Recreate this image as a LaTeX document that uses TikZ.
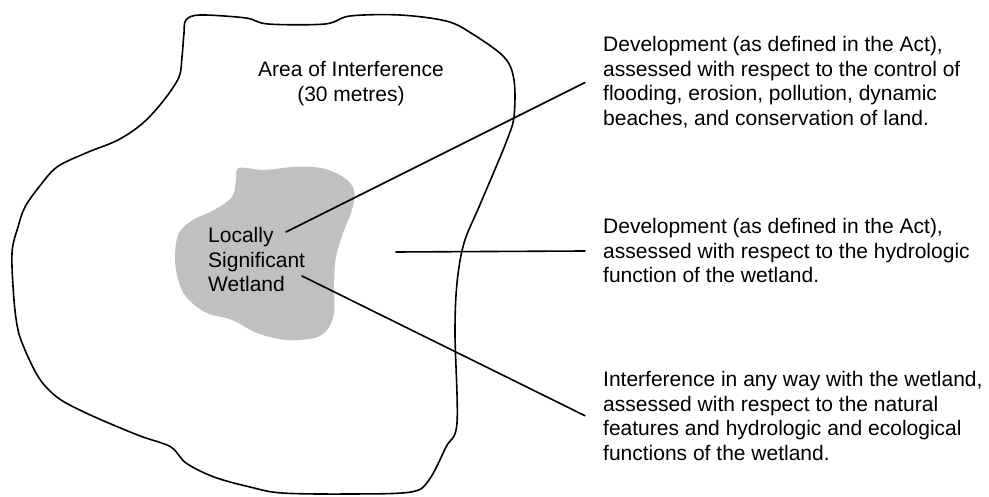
\documentclass[tikz,border=0pt]{standalone}
\usepackage{fontspec}
\setmainfont{Liberation Sans}
\definecolor{wetgray}{RGB}{192,192,192}
\begin{document}
\begin{tikzpicture}[x=1pt, y=-1pt, line join = round, line cap = round,
    txt/.style={font=\fontsize{21}{24.5}\selectfont, align=left, inner sep=0pt, anchor=base west},
    border/.style={line width=1.6pt}]
\useasboundingbox (0,0) rectangle (989,497);
% area of interference
\draw[border] plot[smooth cycle, tension=0.55] coordinates {
    (186,20) (200,15) (246,18) (268,24) (325,24) (350,16) (400,15) (446,21)
    (471,33) (504,57) (514,80) (514,117) (507,140) (496,167) (479,207) (464,243)
    (457,283) (455,333) (457,423) (446,447) (429,480) (411,492) (350,494) (282,493)
    (250,487) (214,477) (186,463) (171,447) (143,437) (118,427) (86,413) (61,400)
    (46,387) (36,373) (25,350) (18,330) (14,300) (12,253) (18,227) (25,207)
    (39,187) (57,167) (86,153) (118,140) (143,123) (164,100) (179,77) (182,57)
    (184,33)};
% wetland
\fill[wetgray] plot[smooth cycle, tension=0.6] coordinates {
    (239,168) (264,170) (293,167) (321,168) (343,177) (354,190) (352,210) (343,233)
    (336,257) (334,283) (334,313) (327,330) (314,338) (286,340) (257,333) (232,320)
    (207,313) (189,300) (179,283) (175,257) (179,233) (193,220) (214,210) (232,197)
    (236,180)};

% base anchor sits on the last line
\node[txt] (wet) at (208,292) {Locally\\Significant\\Wetland};
\node[txt, align=center, anchor=base] (area) at (351,101.5) {Area of Interference\\(30 metres)};

\node[txt] (devA) at (603,125.5) {Development (as defined in the Act),\\assessed with respect to the control of\\flooding, erosion, pollution, dynamic\\beaches, and conservation of land.};
\node[txt] (devB) at (603,283) {Development (as defined in the Act),\\assessed with respect to the hydrologic\\function of the wetland.};
\node[txt] (intf) at (603,460) {Interference in any way with the wetland,\\assessed with respect to the natural\\features and hydrologic and ecological\\functions of the wetland.};

\coordinate (fromA) at (286,232);
\coordinate (fromB) at (396,252);
\coordinate (fromC) at (302,276);
\draw[border] (fromA) -- ([xshift=-18pt]devA.west);
\draw[border] (fromB) -- ([xshift=-18pt]devB.west);
\draw[border] (fromC) -- ([xshift=-18pt]intf.west);
\end{tikzpicture}
\end{document}
